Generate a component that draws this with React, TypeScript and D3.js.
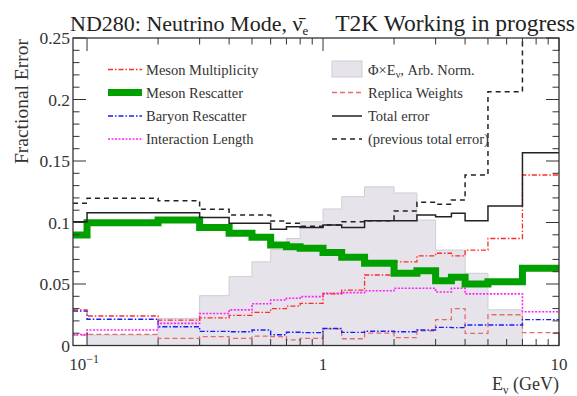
import React from "react";
import * as d3 from "d3";

// Bin edges in neutrino energy (GeV)
const binEdges = [0, 0.1, 0.2, 0.3, 0.4, 0.5, 0.6, 0.7, 0.8, 1.0, 1.2, 1.5, 2.0, 2.5, 3.0, 3.5, 4.0, 5.0, 7.0, 10.0];

// Fractional errors per bin
const mesonMultiplicity = [0.029, 0.024, 0.0207, 0.0225, 0.0245, 0.027, 0.030, 0.032, 0.0343, 0.042, 0.045, 0.0573, 0.068, 0.0728, 0.075, 0.0728, 0.0776, 0.087, 0.1386];
const mesonRescatter = [0.0898, 0.0998, 0.102, 0.096, 0.0912, 0.088, 0.0817, 0.0803, 0.079, 0.0757, 0.0717, 0.0668, 0.0587, 0.0608, 0.0527, 0.0554, 0.05, 0.0519, 0.0628];
const baryonRescatter = [0.028, 0.0213, 0.0153, 0.0115, 0.0112, 0.0126, 0.0088, 0.0108, 0.0105, 0.0138, 0.0107, 0.0116, 0.0112, 0.0126, 0.0147, 0.0145, 0.0167, 0.0167, 0.021];
const interactionLength = [0.009, 0.0126, 0.018, 0.026, 0.029, 0.034, 0.037, 0.0384, 0.0397, 0.0424, 0.043, 0.0445, 0.0465, 0.0465, 0.0435, 0.0465, 0.042, 0.042, 0.0275];
const replicaWeights = [0.0085, 0.009, 0.0058, 0.0072, 0.0058, 0.0077, 0.0072, 0.0045, 0.0058, 0.0135, 0.0055, 0.01, 0.0064, 0.012, 0.021, 0.03, 0.0099, 0.025, 0.0104];
const totalError = [0.1006, 0.108, 0.108, 0.104, 0.0993, 0.0993, 0.0945, 0.0966, 0.096, 0.098, 0.096, 0.1015, 0.1015, 0.106, 0.1047, 0.1075, 0.1015, 0.1134, 0.1568];
const previousTotalError = [0.1156, 0.1197, 0.1177, 0.1107, 0.106, 0.106, 0.1012, 0.0993, 0.097, 0.098, 0.1006, 0.1015, 0.1094, 0.1164, 0.1148, 0.1183, 0.1386, 0.2063, 0.3];
// Flux times energy, arbitrary normalisation
const fluxTimesEnergy = [0, 0.0085, 0.022, 0.0405, 0.056, 0.068, 0.078, 0.087, 0.1006, 0.111, 0.121, 0.129, 0.124, 0.102, 0.0776, 0.0776, 0.0587, 0.029, 0];

const yTicks = [0, 0.05, 0.1, 0.15, 0.2, 0.25];
const yTickLabels = ["0", "0.05", "0.1", "0.15", "0.2", "0.25"];

const W = 577;
const H = 396;
const plot = { left: 73, right: 559, top: 38, bottom: 345.5 };
const xMin = 0.0872;
const xMax = 10;
const FONT = "'Liberation Serif', 'Times New Roman', serif";

const x = d3.scaleLog().domain([xMin, xMax]).range([plot.left, plot.right]);
const y = d3.scaleLinear().domain([0, 0.25]).range([plot.bottom, plot.top]);

type Pt = [number, number];
const stepPoints = (vals: number[]): Pt[] => {
  const pts: Pt[] = vals.map((v, i) => [Math.max(binEdges[i], xMin), v]);
  pts.push([binEdges[binEdges.length - 1], vals[vals.length - 1]]);
  return pts;
};

const stepLine = d3
  .line<Pt>()
  .x((d) => x(d[0]))
  .y((d) => y(d[1]))
  .curve(d3.curveStepAfter);

const stepArea = d3
  .area<Pt>()
  .x((d) => x(d[0]))
  .y0(y(0))
  .y1((d) => y(d[1]))
  .curve(d3.curveStepAfter);

type Series = {
  name: string;
  values: number[];
  color: string;
  width: number;
  dash?: string;
  opacity?: number;
};

const series: Series[] = [
  { name: "Replica Weights", values: replicaWeights, color: "#e0605e", width: 1.3, dash: "5,3", opacity: 0.9 },
  { name: "Baryon Rescatter", values: baryonRescatter, color: "#1a1aff", width: 1.4, dash: "5,2,1.5,2" },
  { name: "Interaction Length", values: interactionLength, color: "#ff22ff", width: 1.6, dash: "2,1.5" },
  { name: "Meson Multiplicity", values: mesonMultiplicity, color: "#ff2a2a", width: 1.3, dash: "5,2,1.5,2" },
  { name: "Meson Rescatter", values: mesonRescatter, color: "#00a000", width: 7 },
  { name: "Total error", values: totalError, color: "#222", width: 1.5 },
  { name: "(previous total error)", values: previousTotalError, color: "#222", width: 1.5, dash: "5,4" },
];

const byName = (n: string) => series.find((s) => s.name === n)!;

const minorX = [0.2, 0.3, 0.4, 0.5, 0.6, 0.7, 0.8, 0.9, 2, 3, 4, 5, 6, 7, 8, 9];
const majorX = [0.1, 1, 10];
const minorY = d3.range(0, 0.2501, 0.01);

const leftLegend = ["Meson Multiplicity", "Meson Rescatter", "Baryon Rescatter", "Interaction Length"];
const rightLegend = ["Replica Weights", "Total error", "(previous total error)"];

export default function App() {
  const rowY = [69.5, 92.5, 116, 139];

  return (
    <svg
      width={W}
      height={H}
      style={{ position: "absolute", left: 0, top: 0, background: "#fff" }}
      fontFamily={FONT}
    >
      <defs>
        <clipPath id="plotClip">
          <rect x={plot.left} y={plot.top} width={plot.right - plot.left} height={plot.bottom - plot.top} />
        </clipPath>
      </defs>

      <g clipPath="url(#plotClip)">
        <path d={stepArea(stepPoints(fluxTimesEnergy)) || ""} fill="#e6e4ea" stroke="#cfcdd2" strokeWidth={1} />
        {series.map((s) => (
          <path
            key={s.name}
            d={stepLine(stepPoints(s.values)) || ""}
            fill="none"
            stroke={s.color}
            strokeWidth={s.width}
            strokeDasharray={s.dash}
            opacity={s.opacity ?? 1}
          />
        ))}
      </g>

      {/* frame */}
      <rect
        x={plot.left}
        y={plot.top}
        width={plot.right - plot.left}
        height={plot.bottom - plot.top}
        fill="none"
        stroke="#333"
        strokeWidth={1.3}
      />

      {/* y ticks, both sides */}
      {minorY.map((v, i) => {
        const major = i % 5 === 0;
        const len = major ? 13 : 6.5;
        return (
          <g key={"yt" + i} stroke="#333" strokeWidth={1}>
            <line x1={plot.left} x2={plot.left + len} y1={y(v)} y2={y(v)} />
            <line x1={plot.right} x2={plot.right - len} y1={y(v)} y2={y(v)} />
          </g>
        );
      })}

      {/* x ticks, top and bottom */}
      {[...minorX.map((v) => [v, 6.5]), ...majorX.map((v) => [v, 13])].map(([v, len], i) => (
        <g key={"xt" + i} stroke="#333" strokeWidth={1}>
          <line x1={x(v)} x2={x(v)} y1={plot.bottom} y2={plot.bottom - len} />
          <line x1={x(v)} x2={x(v)} y1={plot.top} y2={plot.top + len} />
        </g>
      ))}

      {/* y tick labels */}
      {yTicks.map((v, i) => (
        <text key={"yl" + i} x={plot.left - 3} y={y(v)} dy="0.35em" textAnchor="end" fontSize={17.5} fill="#333">
          {yTickLabels[i]}
        </text>
      ))}

      {/* x tick labels */}
      <text x={x(0.1) - 3} y={370} textAnchor="middle" fontSize={17} fill="#333">
        10<tspan dy={-7} fontSize={12}>−1</tspan>
      </text>
      <text x={x(1)} y={370} textAnchor="middle" fontSize={17} fill="#333">1</text>
      <text x={x(10)} y={370} textAnchor="middle" fontSize={17} fill="#333">10</text>

      {/* axis titles */}
      <text x={plot.right} y={390} textAnchor="end" fontSize={18} fill="#333">
        E<tspan dy={4} fontSize={12}>ν</tspan>
        <tspan dy={-4}> (GeV)</tspan>
      </text>
      <text
        transform={`translate(28, ${plot.top + 1}) rotate(-90)`}
        textAnchor="end"
        fontSize={19.5}
        fill="#333"
      >
        Fractional Error
      </text>

      {/* titles */}
      <text x={70} y={31} fontSize={22} fill="#222">
        ND280: Neutrino Mode, ν̄<tspan dy={4} fontSize={13}>e</tspan>
      </text>
      <text x={575} y={31} textAnchor="end" fontSize={23.5} fill="#222">
        T2K Working in progress
      </text>

      {/* left legend */}
      {leftLegend.map((n, i) => {
        const s = byName(n);
        return (
          <g key={n}>
            <line
              x1={108}
              x2={142}
              y1={rowY[i]}
              y2={rowY[i]}
              stroke={s.color}
              strokeWidth={s.width}
              strokeDasharray={s.dash}
            />
            <text x={146} y={rowY[i]} dy="0.35em" fontSize={14.5} fill="#333">
              {n}
            </text>
          </g>
        );
      })}

      {/* right legend */}
      <rect x={332} y={61} width={30} height={16} fill="#e6e4ea" stroke="#cfcdd2" />
      <text x={368} y={rowY[0]} dy="0.35em" fontSize={14.5} fill="#333">
        Φ×E<tspan dy={3} fontSize={10}>ν</tspan>
        <tspan dy={-3}>, Arb. Norm.</tspan>
      </text>
      {rightLegend.map((n, i) => {
        const s = byName(n);
        return (
          <g key={n}>
            <line
              x1={332}
              x2={362}
              y1={rowY[i + 1]}
              y2={rowY[i + 1]}
              stroke={s.color}
              strokeWidth={s.width}
              strokeDasharray={s.dash}
              opacity={s.opacity ?? 1}
            />
            <text x={368} y={rowY[i + 1]} dy="0.35em" fontSize={14.5} fill="#333">
              {n}
            </text>
          </g>
        );
      })}
    </svg>
  );
}
